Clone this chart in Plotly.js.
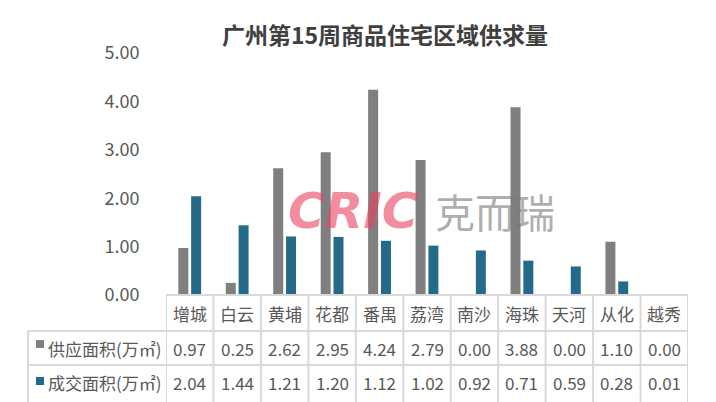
<!DOCTYPE html>
<html>
<head>
<meta charset="utf-8">
<script src="https://cdn.plot.ly/plotly-3.0.1.min.js"></script>
<style>html,body{margin:0;padding:0;background:#fff;}#chart{width:716px;height:402px;}</style>
</head>
<body>
<div id="chart"></div>
<script>
const categories = ['增城','白云','黄埔','花都','番禺','荔湾','南沙','海珠','天河','从化','越秀'];
const supplyValues = [0.97,0.25,2.62,2.95,4.24,2.79,0.00,3.88,0.00,1.10,0.00];
const dealValues = [2.04,1.44,1.21,1.20,1.12,1.02,0.92,0.71,0.59,0.28,0.01];
const seriesNames = ['供应面积(万㎡)','成交面积(万㎡)'];
const yTickValues = [0,1,2,3,4,5];
const titleText = '广州第15周商品住宅区域供求量';

const W = 716, H = 402;
const L = 166, R = 688, T = 53, B = 295;
const px = x => (x - L) / (R - L);
const py = y => (B - y) / (B - T);

const FONT = '"Noto Sans CJK SC", "Noto Sans", sans-serif';
const TXT = '#595959';
const GRID = '#d9d9d9';
const colors = ['#7f7f7f', '#256a88'];

const traces = [
  {type:'bar', name:seriesNames[0], x:categories, y:supplyValues, marker:{color:colors[0]}, hoverinfo:'skip'},
  {type:'bar', name:seriesNames[1], x:categories, y:dealValues, marker:{color:colors[1]}, hoverinfo:'skip'}
];

const rowTop = [295, 331, 365];
const rowMid = [313, 348, 382];
const bottom = 410;

const shapes = [];
const line = {color: GRID, width: 2};
shapes.push({type:'line', xref:'paper', yref:'paper', x0:px(L), x1:px(R), y0:py(295), y1:py(295), line});
[331, 365].forEach(y => shapes.push({type:'line', xref:'paper', yref:'paper', x0:px(28), x1:px(R), y0:py(y), y1:py(y), line}));
for (let i = 0; i <= categories.length; i++) {
  shapes.push({type:'line', xref:'x', yref:'paper', x0:i-0.5, x1:i-0.5, y0:py(295), y1:py(bottom), line});
}
shapes.push({type:'line', xref:'paper', yref:'paper', x0:px(28), x1:px(28), y0:py(331), y1:py(bottom), line});
[[340,348],[377,385]].forEach((yy, k) => shapes.push({type:'rect', xref:'paper', yref:'paper', x0:px(36), x1:px(44), y0:py(yy[1]), y1:py(yy[0]), line:{width:0}, fillcolor:colors[k]}));

const annotations = [];
const tfont = {family: FONT, size: 17, color: TXT};
categories.forEach((c, i) => {
  annotations.push({xref:'x', yref:'paper', x:i, y:py(rowMid[0]), text:c, showarrow:false, xanchor:'center', yanchor:'middle', font:tfont});
  annotations.push({xref:'x', yref:'paper', x:i, y:py(rowMid[1]), text:supplyValues[i].toFixed(2), showarrow:false, xanchor:'center', yanchor:'middle', font:tfont});
  annotations.push({xref:'x', yref:'paper', x:i, y:py(rowMid[2]), text:dealValues[i].toFixed(2), showarrow:false, xanchor:'center', yanchor:'middle', font:tfont});
});
seriesNames.forEach((n, k) => {
  annotations.push({xref:'paper', yref:'paper', x:px(46), y:py(rowMid[k+1]), text:n, showarrow:false, xanchor:'left', yanchor:'middle', font:tfont});
});
// watermark
annotations.push({xref:'paper', yref:'paper', x:px(353), y:py(211), text:'<b><i>CRIC</i></b>', showarrow:false, xanchor:'center', yanchor:'middle',
  font:{family:'"DejaVu Sans", sans-serif', size:50, color:'rgba(232,65,95,0.6)', weight:'bold', style:'italic'}});
annotations.push({xref:'paper', yref:'paper', x:px(495), y:py(211), text:'克而瑞', showarrow:false, xanchor:'center', yanchor:'middle',
  font:{family:FONT, size:40, color:'rgba(120,120,120,0.6)'}});

const layout = {
  width: W, height: H,
  margin: {l: L, r: W - R, t: T, b: H - B, pad: 0},
  paper_bgcolor: '#fff', plot_bgcolor: '#fff',
  showlegend: false,
  barmode: 'group', bargap: 0.46, bargroupgap: 0.22,
  title: {text: '<b>' + titleText + '</b>', x: 385 / W, xref: 'container', xanchor: 'center', y: 1 - 36 / H, yref: 'container', yanchor: 'middle',
    font: {family: FONT, size: 23, color: '#404040'}},
  xaxis: {type:'category', range:[-0.5, categories.length - 0.5], showticklabels:false, showgrid:false, zeroline:false, showline:false, ticks:''},
  yaxis: {range:[0,5], tickvals:yTickValues, ticktext:yTickValues.map(v => v.toFixed(2)), showgrid:false, zeroline:false, showline:false,
    ticks:'outside', ticklen:22, tickcolor:'rgba(0,0,0,0)', tickfont:{family:FONT, size:18, color:TXT}},
  shapes, annotations
};

Plotly.newPlot('chart', traces, layout, {staticPlot: true, displayModeBar: false});
</script>
</body>
</html>
